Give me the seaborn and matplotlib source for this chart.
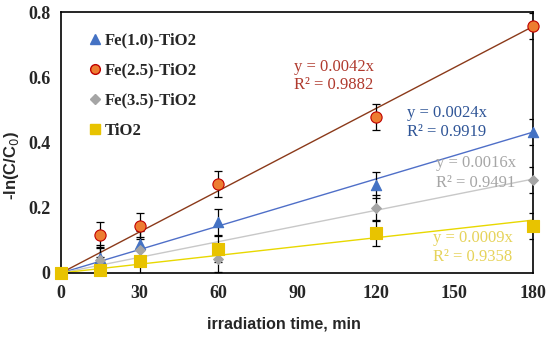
import numpy as np
import pandas as pd
import seaborn as sns
import matplotlib.pyplot as plt
from matplotlib.ticker import FuncFormatter
from matplotlib.lines import Line2D

sns.set_style('white')
plt.rcParams['font.family'] = ['Liberation Serif', 'DejaVu Serif']

# %% data
time = [0, 15, 30, 60, 120, 180]
samples = ['Fe(1.0)-TiO2', 'Fe(2.5)-TiO2', 'Fe(3.5)-TiO2', 'TiO2']
fe10 = [0, 0.046, 0.089, 0.157, 0.270, 0.432]
fe25 = [0, 0.117, 0.145, 0.273, 0.478, 0.758]
fe35 = [0, 0.040, 0.070, 0.043, 0.200, 0.285]
tio2 = [0, 0.010, 0.037, 0.073, 0.122, 0.145]
err = [0, 0.04, 0.04, 0.04, 0.04, 0.04]
slopes = [0.0024, 0.0042, 0.0016, 0.0009]
r2 = [0.9919, 0.9882, 0.9491, 0.9358]

df = pd.DataFrame({
    'time': time * 4,
    'value': fe10 + fe25 + fe35 + tio2,
    'err': err * 4,
    'sample': [s for s in samples for _ in time],
})
fit = pd.DataFrame({
    'time': [0, 180] * 4,
    'value': [k * t for k in slopes for t in [0, 180]],
    'sample': [s for s in samples for _ in range(2)],
})

marker_col = {'Fe(1.0)-TiO2': '#4472C4', 'Fe(2.5)-TiO2': '#ED7D31',
              'Fe(3.5)-TiO2': '#A5A5A5', 'TiO2': '#E8C300'}
edge_col = {'Fe(1.0)-TiO2': '#4472C4', 'Fe(2.5)-TiO2': '#C00000',
            'Fe(3.5)-TiO2': '#A5A5A5', 'TiO2': '#E8C300'}
line_col = {'Fe(1.0)-TiO2': '#4F6FC8', 'Fe(2.5)-TiO2': '#8B3A1A',
            'Fe(3.5)-TiO2': '#C8C8C8', 'TiO2': '#E8D800'}
text_col = {'Fe(1.0)-TiO2': '#2F5597', 'Fe(2.5)-TiO2': '#B03A2E',
            'Fe(3.5)-TiO2': '#A6A6A6', 'TiO2': '#E6D35A'}
markers = {'Fe(1.0)-TiO2': '^', 'Fe(2.5)-TiO2': 'o', 'Fe(3.5)-TiO2': 'D', 'TiO2': 's'}
msize = {'Fe(1.0)-TiO2': 55, 'Fe(2.5)-TiO2': 65, 'Fe(3.5)-TiO2': 25, 'TiO2': 65}

# %% plot
fig = plt.figure(figsize=(5.5, 3.37), dpi=100)
ax = fig.add_axes([0.111, 0.19, 0.858, 0.774])

sns.lineplot(data=fit, x='time', y='value', hue='sample', palette=line_col,
             linewidth=1, legend=False, ax=ax, zorder=1)

for s in samples:
    d = df[df['sample'] == s]
    ax.errorbar(d['time'], d['value'], yerr=d['err'], fmt='none', ecolor='black',
                elinewidth=0.9, capsize=3, capthick=0.9, zorder=2)

for s in samples:
    d = df[df['sample'] == s]
    sns.scatterplot(data=d, x='time', y='value', marker=markers[s], s=msize[s],
                    color=marker_col[s], edgecolor=edge_col[s], linewidth=0.8,
                    ax=ax, zorder=3, clip_on=False)

# regression labels
ann_pos = {'Fe(2.5)-TiO2': (89, 0.632, 0.576), 'Fe(1.0)-TiO2': (132, 0.49, 0.433),
           'Fe(3.5)-TiO2': (143, 0.337, 0.277), 'TiO2': (142, 0.107, 0.049)}
for i, s in enumerate(samples):
    x0, y1, y2 = ann_pos[s]
    ax.text(x0, y1, f'y = {slopes[i]:.4f}x', color=text_col[s], fontsize=12, va='center')
    ax.text(x0, y2, f'R² = {r2[i]:.4f}', color=text_col[s], fontsize=12, va='center')

ax.set_xlim(0, 180)
ax.set_ylim(0, 0.8)
ax.set_xticks(range(0, 181, 30))
ax.set_yticks([0, 0.2, 0.4, 0.6, 0.8])
ax.yaxis.set_major_formatter(FuncFormatter(lambda v, p: '0' if v == 0 else f'{v:.1f}'))
ax.tick_params(axis='both', direction='out', length=4, width=1, labelsize=13, color='black')
ax.tick_params(axis='x', pad=5)
for lab in ax.get_xticklabels() + ax.get_yticklabels():
    lab.set_fontweight('bold')
for sp in ax.spines.values():
    sp.set_color('black')
    sp.set_linewidth(1.2)

ax.set_xlabel('irradiation time, min', fontsize=11.5, fontweight='bold',
              family='Liberation Sans')
ax.xaxis.set_label_coords(0.472, -0.165)
ax.set_ylabel('-ln(C/C$_0$)', fontsize=12, fontweight='bold',
              family='Liberation Sans')
ax.yaxis.set_label_coords(-0.085, 0.414)

handles = [Line2D([], [], linestyle='none', marker=markers[s], markersize=7 if s != 'Fe(3.5)-TiO2' else 5,
                  markerfacecolor=marker_col[s], markeredgecolor=edge_col[s]) for s in samples]
ax.legend(handles, samples, loc='upper left', bbox_to_anchor=(0.02, 0.98), frameon=False,
          prop={'weight': 'bold', 'size': 12}, handletextpad=0.05, handlelength=1.1,
          labelspacing=0.85)

fig.savefig('out.png', dpi=100)
